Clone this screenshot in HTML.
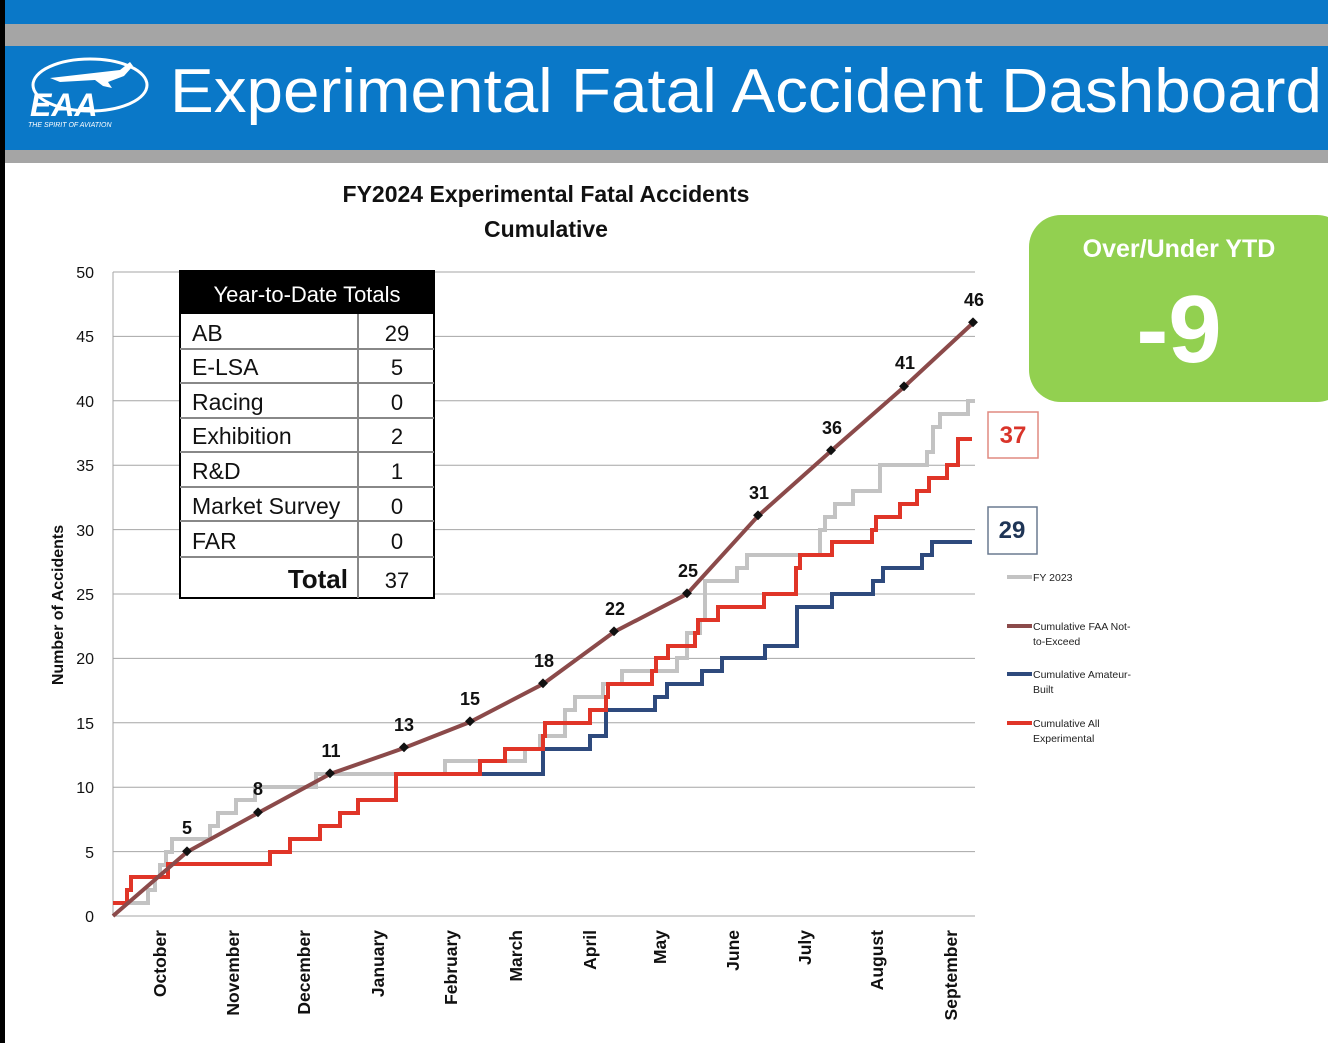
<!DOCTYPE html>
<html><head><meta charset="utf-8"><style>
html,body{margin:0;padding:0;background:#fff}
svg{display:block}
text{font-family:"Liberation Sans",sans-serif}
</style></head><body>
<svg width="1328" height="1043" viewBox="0 0 1328 1043" xmlns="http://www.w3.org/2000/svg">
<rect width="1328" height="1043" fill="#fff"/>
<rect x="0" y="0" width="1328" height="24" fill="#0a78c8"/>
<rect x="0" y="24" width="1328" height="22" fill="#a5a5a5"/>
<rect x="0" y="46" width="1328" height="104" fill="#0a78c8"/>
<rect x="0" y="150" width="1328" height="13" fill="#a5a5a5"/>
<rect x="0" y="0" width="5" height="1043" fill="#000"/>
<!-- logo -->
<ellipse cx="90" cy="85" rx="57" ry="26" fill="none" stroke="#fff" stroke-width="3"/>
<path d="M50 78 L120 70 L130 62 L133 66 L124 76 L108 82 L112 88 L103 86 L95 80 L60 82 Z" fill="#fff"/>
<text x="30" y="116" font-size="32" font-weight="bold" font-style="italic" fill="#fff">EAA</text>
<text x="28" y="127" font-size="7" font-style="italic" fill="#fff">THE SPIRIT OF AVIATION</text>
<text x="170" y="112" font-size="62" fill="#fff" textLength="1152" lengthAdjust="spacingAndGlyphs">Experimental Fatal Accident Dashboard</text>
<!-- title -->
<text x="546" y="202" font-size="23" font-weight="bold" text-anchor="middle" fill="#111">FY2024 Experimental Fatal Accidents</text>
<text x="546" y="237" font-size="23" font-weight="bold" text-anchor="middle" fill="#111">Cumulative</text>
<!-- grid -->
<g stroke="#a6a6a6" stroke-width="1">
<line x1="113" y1="272" x2="975" y2="272"/><line x1="113" y1="336.4" x2="975" y2="336.4"/>
<line x1="113" y1="400.8" x2="975" y2="400.8"/><line x1="113" y1="465.2" x2="975" y2="465.2"/>
<line x1="113" y1="529.6" x2="975" y2="529.6"/><line x1="113" y1="594" x2="975" y2="594"/>
<line x1="113" y1="658.4" x2="975" y2="658.4"/><line x1="113" y1="722.8" x2="975" y2="722.8"/>
<line x1="113" y1="787.2" x2="975" y2="787.2"/><line x1="113" y1="851.6" x2="975" y2="851.6"/>
<line x1="113" y1="916" x2="975" y2="916"/><line x1="113" y1="272" x2="113" y2="916"/>
</g>
<g font-size="16" text-anchor="end" fill="#111">
<text x="94" y="278">50</text><text x="94" y="342">45</text><text x="94" y="407">40</text>
<text x="94" y="471">35</text><text x="94" y="536">30</text><text x="94" y="600">25</text>
<text x="94" y="664">20</text><text x="94" y="729">15</text><text x="94" y="793">10</text>
<text x="94" y="858">5</text><text x="94" y="922">0</text>
</g>
<text transform="translate(63,605) rotate(-90)" font-size="16" font-weight="bold" text-anchor="middle" fill="#111">Number of Accidents</text>
<g font-size="17.5" font-weight="bold" text-anchor="end" fill="#111">
<text transform="translate(166,930) rotate(-90)">October</text>
<text transform="translate(239,930) rotate(-90)">November</text>
<text transform="translate(310,930) rotate(-90)">December</text>
<text transform="translate(384,930) rotate(-90)">January</text>
<text transform="translate(457,930) rotate(-90)">February</text>
<text transform="translate(522,930) rotate(-90)">March</text>
<text transform="translate(596,930) rotate(-90)">April</text>
<text transform="translate(666,930) rotate(-90)">May</text>
<text transform="translate(739,930) rotate(-90)">June</text>
<text transform="translate(811,930) rotate(-90)">July</text>
<text transform="translate(883,930) rotate(-90)">August</text>
<text transform="translate(957,930) rotate(-90)">September</text>
</g>
<!-- series -->
<g fill="none" stroke-width="4" stroke-linejoin="miter">
<path stroke="#c3c3c3" d="M113 903 H148 V890 H155 V877 H160 V865 H166 V852 H172 V839 H210 V826 H218 V813 H236 V800 H255 V787 H316 V774 H445 V761 H525 V749 H540 V736 H565 V710 H575 V697 H603 V684 H622 V671 H677 V658 H687 V633 H700 V620 H705 V581 H737 V568 H747 V555 H820 V530 H825 V517 H835 V504 H853 V491 H880 V465 H927 V452 H933 V427 H940 V414 H968 V401 H975"/>
<path stroke="#2e4a7d" d="M482 774 H543 V749 H590 V736 H606 V710 H655 V697 H667 V684 H702 V671 H722 V658 H765 V646 H797 V607 H832 V594 H873 V581 H883 V568 H922 V555 H932 V542 H972"/>
<path stroke="#e03528" d="M113 903 H127 V890 H131 V877 H168 V864 H270 V852 H290 V839 H320 V826 H340 V813 H358 V800 H396 V774 H480 V761 H505 V749 H543 V736 H545 V723 H590 V710 H606 V697 H608 V684 H652 V671 H656 V658 H668 V646 H695 V633 H698 V620 H718 V607 H764 V594 H796 V568 H800 V555 H832 V542 H872 V530 H876 V517 H900 V504 H917 V491 H929 V478 H947 V465 H958 V439 H972"/>
<polyline stroke="#8b4a4a" points="113,916 187,852 258,813 330,774 404,748 470,722 543,684 614,632 687,594 758,516 831,451 904,387 973,323"/>
</g>
<g fill="#111">
<rect x="183" y="848" width="7" height="7" transform="rotate(45 187 852)"/>
<rect x="254" y="809" width="7" height="7" transform="rotate(45 258 813)"/>
<rect x="326" y="770" width="7" height="7" transform="rotate(45 330 774)"/>
<rect x="400" y="744" width="7" height="7" transform="rotate(45 404 748)"/>
<rect x="466" y="718" width="7" height="7" transform="rotate(45 470 722)"/>
<rect x="539" y="680" width="7" height="7" transform="rotate(45 543 684)"/>
<rect x="610" y="628" width="7" height="7" transform="rotate(45 614 632)"/>
<rect x="683" y="590" width="7" height="7" transform="rotate(45 687 594)"/>
<rect x="754" y="512" width="7" height="7" transform="rotate(45 758 516)"/>
<rect x="827" y="447" width="7" height="7" transform="rotate(45 831 451)"/>
<rect x="900" y="383" width="7" height="7" transform="rotate(45 904 387)"/>
<rect x="969" y="319" width="7" height="7" transform="rotate(45 973 323)"/>
</g>
<g font-size="18" font-weight="bold" text-anchor="middle" fill="#111">
<text x="187" y="834">5</text><text x="258" y="795">8</text><text x="331" y="757">11</text>
<text x="404" y="731">13</text><text x="470" y="705">15</text><text x="544" y="667">18</text>
<text x="615" y="615">22</text><text x="688" y="577">25</text><text x="759" y="499">31</text>
<text x="832" y="434">36</text><text x="905" y="369">41</text><text x="974" y="306">46</text>
</g>
<!-- table -->
<rect x="180" y="271" width="254" height="327" fill="#fff" stroke="#000" stroke-width="2"/>
<rect x="180" y="271" width="254" height="43" fill="#000"/>
<text x="307" y="302" font-size="22" text-anchor="middle" fill="#fff">Year-to-Date Totals</text>
<g stroke="#888" stroke-width="2">
<line x1="180" y1="349" x2="434" y2="349"/><line x1="180" y1="383" x2="434" y2="383"/>
<line x1="180" y1="418" x2="434" y2="418"/><line x1="180" y1="452" x2="434" y2="452"/>
<line x1="180" y1="487" x2="434" y2="487"/><line x1="180" y1="521" x2="434" y2="521"/>
<line x1="180" y1="557" x2="434" y2="557"/><line x1="358" y1="314" x2="358" y2="598"/>
</g>
<g font-size="23" fill="#111">
<text x="192" y="341">AB</text><text x="192" y="375">E-LSA</text><text x="192" y="410">Racing</text>
<text x="192" y="444">Exhibition</text><text x="192" y="479">R&amp;D</text><text x="192" y="514">Market Survey</text>
<text x="192" y="549">FAR</text>
<text x="348" y="588" font-weight="bold" font-size="26" text-anchor="end">Total</text>
</g>
<g font-size="22" fill="#111" text-anchor="middle">
<text x="397" y="341">29</text><text x="397" y="375">5</text><text x="397" y="410">0</text>
<text x="397" y="444">2</text><text x="397" y="479">1</text><text x="397" y="514">0</text>
<text x="397" y="549">0</text><text x="397" y="588">37</text>
</g>
<!-- green box -->
<rect x="1029" y="215" width="320" height="187" rx="32" fill="#92d050"/>
<text x="1179" y="257" font-size="25" font-weight="bold" text-anchor="middle" fill="#fff">Over/Under YTD</text>
<text x="1179" y="362" font-size="96" font-weight="bold" text-anchor="middle" fill="#fff">-9</text>
<!-- end labels -->
<rect x="988" y="412" width="50" height="46" fill="#fff" stroke="#e08a80" stroke-width="1.5"/>
<text x="1013" y="443" font-size="24" font-weight="bold" text-anchor="middle" fill="#d9342a">37</text>
<rect x="988" y="507" width="49" height="47" fill="#fff" stroke="#6a7a90" stroke-width="1.5"/>
<text x="1012" y="538" font-size="24" font-weight="bold" text-anchor="middle" fill="#1f3556">29</text>
<!-- legend -->
<g stroke-width="4">
<line x1="1007" y1="577" x2="1032" y2="577" stroke="#c3c3c3"/>
<line x1="1007" y1="626" x2="1032" y2="626" stroke="#8b4a4a"/>
<line x1="1007" y1="674" x2="1032" y2="674" stroke="#2e4a7d"/>
<line x1="1007" y1="723" x2="1032" y2="723" stroke="#e03528"/>
</g>
<g font-size="10.5" fill="#222">
<text x="1033" y="581">FY 2023</text>
<text x="1033" y="630">Cumulative FAA Not-</text><text x="1033" y="645">to-Exceed</text>
<text x="1033" y="678">Cumulative Amateur-</text><text x="1033" y="693">Built</text>
<text x="1033" y="727">Cumulative All</text><text x="1033" y="742">Experimental</text>
</g>
</svg>
</body></html>
